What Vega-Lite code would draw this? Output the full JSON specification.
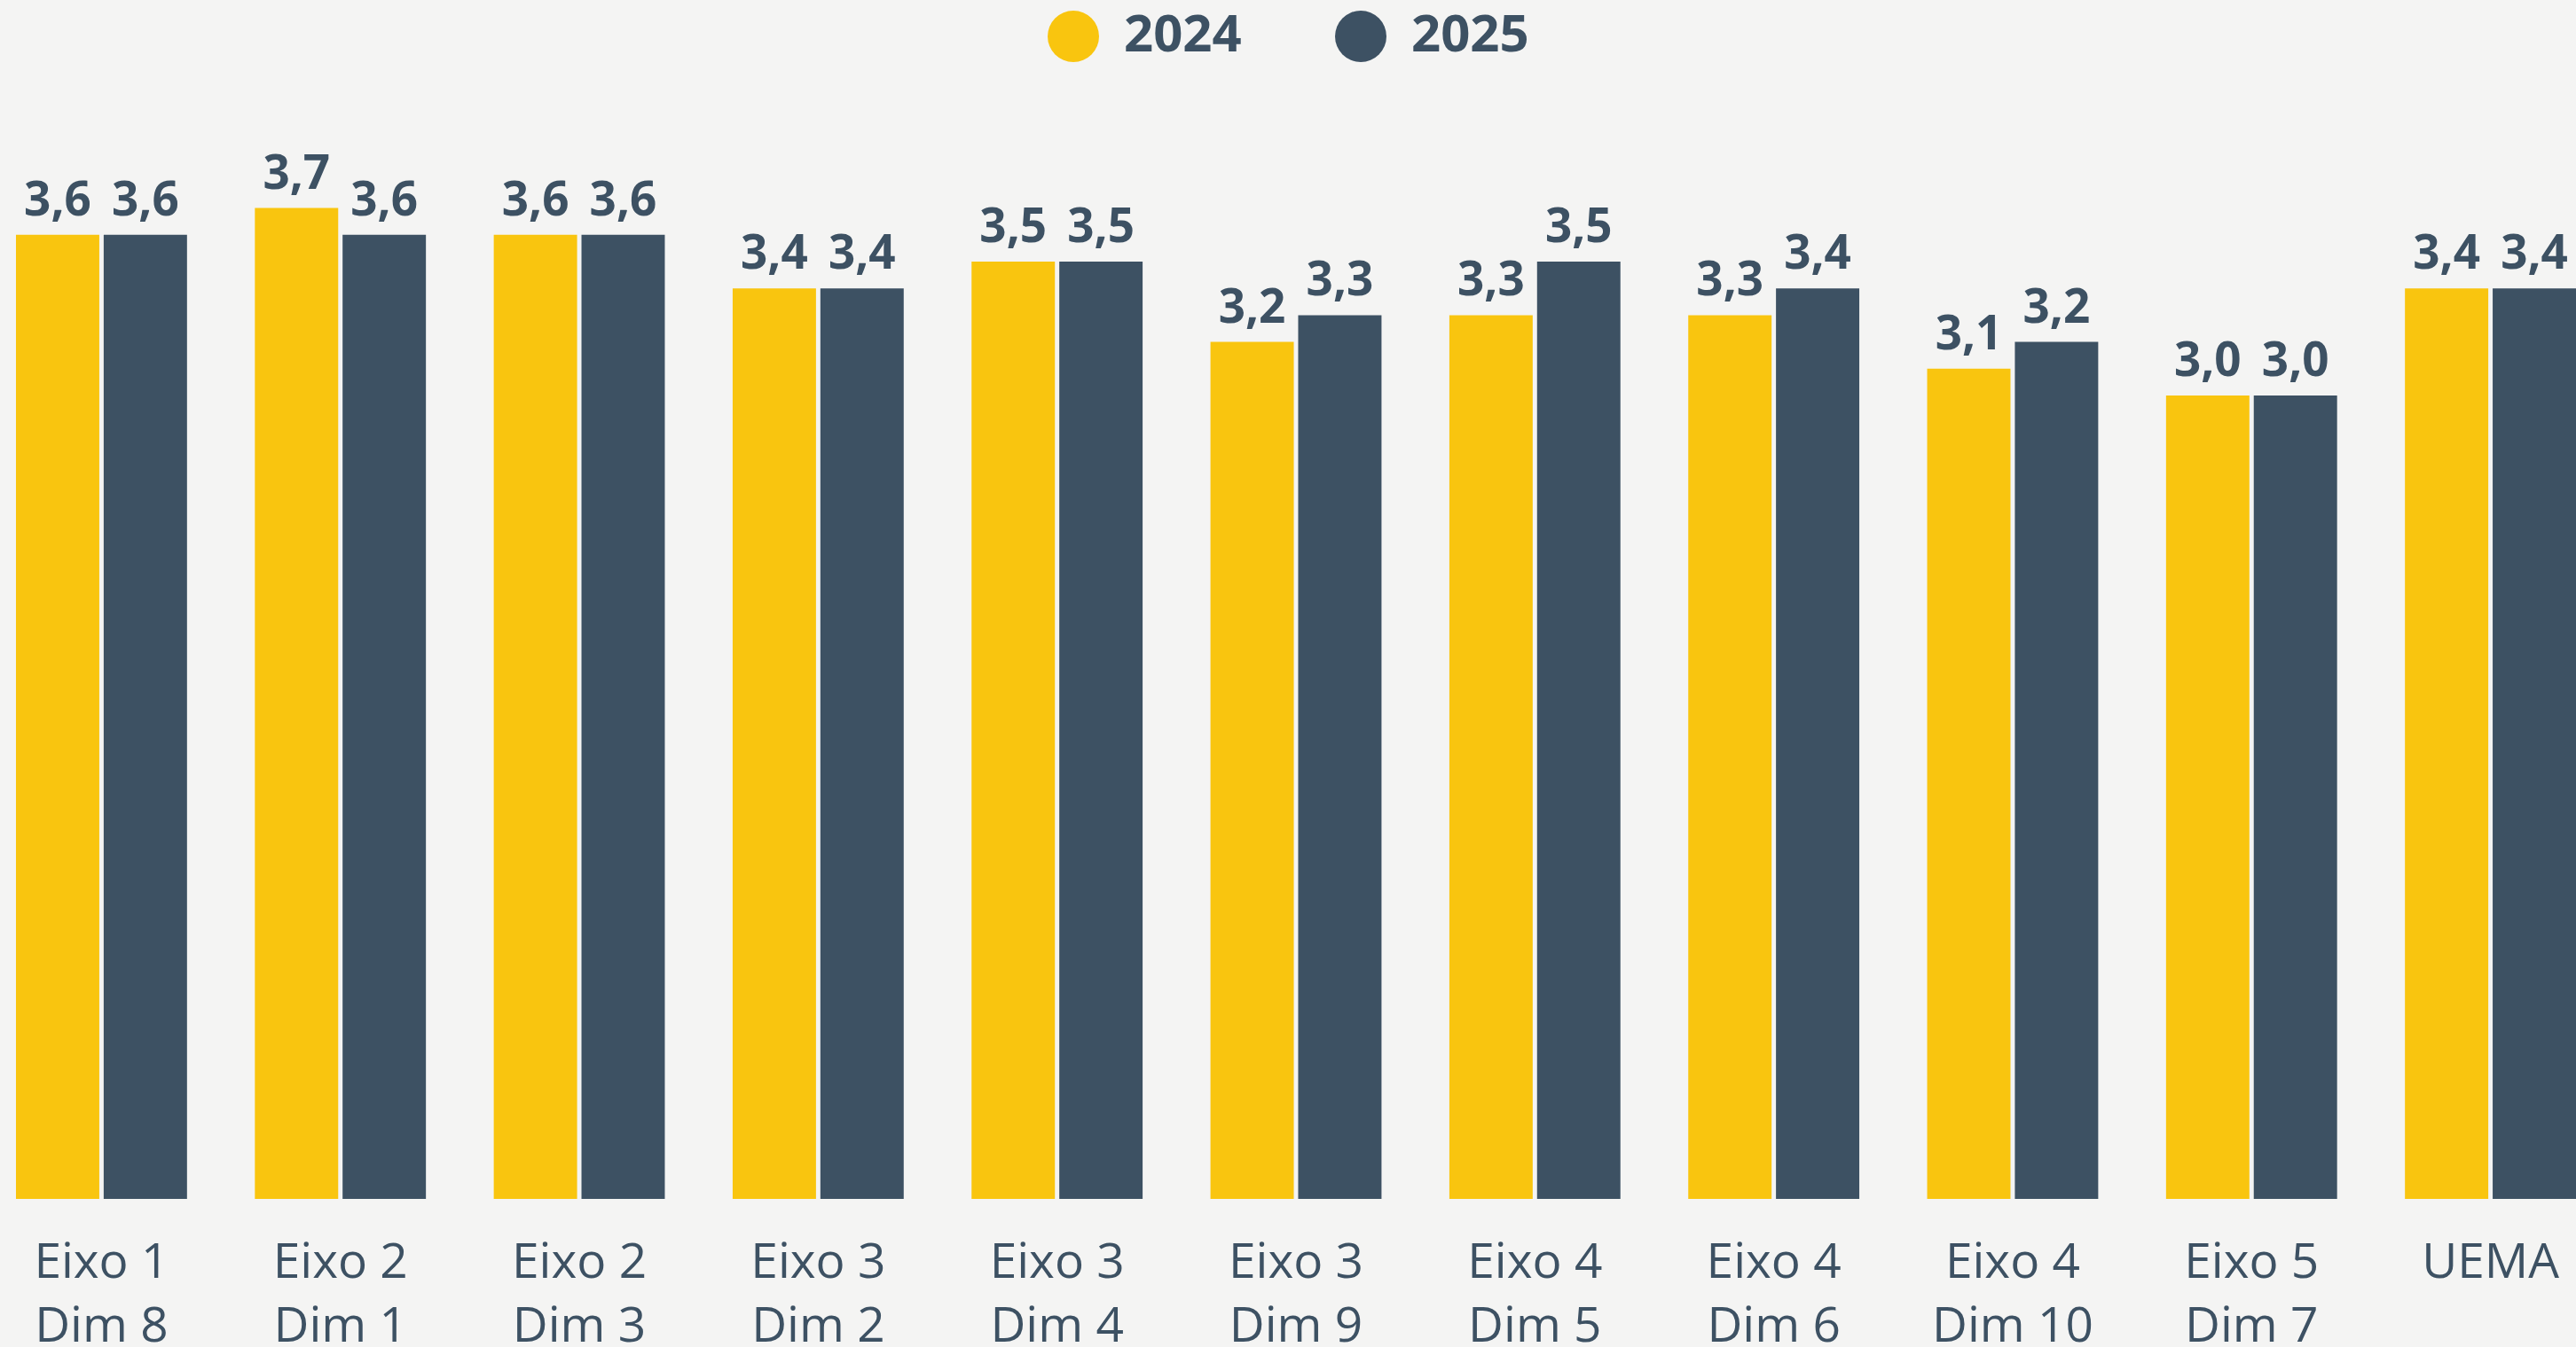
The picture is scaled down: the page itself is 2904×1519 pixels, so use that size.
{
  "$schema": "https://vega.github.io/schema/vega-lite/v6.json",
  "autosize": {"type": "none"},
  "width": 2886,
  "height": 1208,
  "padding": {"left": 18, "top": 144, "right": 0, "bottom": 167},
  "background": "#f4f4f3",
  "config": {
    "view": {"stroke": null},
    "locale": {"number": {"decimal": ",", "thousands": ".", "grouping": [3], "currency": ["R$", ""]}},
    "axis": {"domain": false, "ticks": false, "grid": false}
  },
  "data": {
    "values": [
      {"cat": "Eixo 1|Dim 8", "year": "2024", "value": 3.6},
      {"cat": "Eixo 1|Dim 8", "year": "2025", "value": 3.6},
      {"cat": "Eixo 2|Dim 1", "year": "2024", "value": 3.7},
      {"cat": "Eixo 2|Dim 1", "year": "2025", "value": 3.6},
      {"cat": "Eixo 2|Dim 3", "year": "2024", "value": 3.6},
      {"cat": "Eixo 2|Dim 3", "year": "2025", "value": 3.6},
      {"cat": "Eixo 3|Dim 2", "year": "2024", "value": 3.4},
      {"cat": "Eixo 3|Dim 2", "year": "2025", "value": 3.4},
      {"cat": "Eixo 3|Dim 4", "year": "2024", "value": 3.5},
      {"cat": "Eixo 3|Dim 4", "year": "2025", "value": 3.5},
      {"cat": "Eixo 3|Dim 9", "year": "2024", "value": 3.2},
      {"cat": "Eixo 3|Dim 9", "year": "2025", "value": 3.3},
      {"cat": "Eixo 4|Dim 5", "year": "2024", "value": 3.3},
      {"cat": "Eixo 4|Dim 5", "year": "2025", "value": 3.5},
      {"cat": "Eixo 4|Dim 6", "year": "2024", "value": 3.3},
      {"cat": "Eixo 4|Dim 6", "year": "2025", "value": 3.4},
      {"cat": "Eixo 4|Dim 10", "year": "2024", "value": 3.1},
      {"cat": "Eixo 4|Dim 10", "year": "2025", "value": 3.2},
      {"cat": "Eixo 5|Dim 7", "year": "2024", "value": 3.0},
      {"cat": "Eixo 5|Dim 7", "year": "2025", "value": 3.0},
      {"cat": "UEMA", "year": "2024", "value": 3.4},
      {"cat": "UEMA", "year": "2025", "value": 3.4}
    ]
  },
  "encoding": {
    "x": {
      "field": "cat",
      "type": "nominal",
      "sort": null,
      "scale": {"paddingInner": 0.284, "paddingOuter": 0},
      "axis": {
        "title": null,
        "labelExpr": "split(datum.value, '|')",
        "labelAngle": 0,
        "labelFont": "Open Sans",
        "labelFontSize": 55,
        "labelColor": "#3d5163",
        "labelLineHeight": 72,
        "labelPadding": 45,
        "labelBaseline": "top",
        "labelLimit": 0,
        "labelOverlap": false
      }
    },
    "xOffset": {"field": "year", "type": "nominal", "scale": {"paddingInner": 0.05, "paddingOuter": 0}},
    "y": {"field": "value", "type": "quantitative", "scale": {"domain": [0, 4]}, "axis": null}
  },
  "layer": [
    {
      "mark": {"type": "bar"},
      "encoding": {
        "color": {
          "field": "year",
          "type": "nominal",
          "scale": {"domain": ["2024", "2025"], "range": ["#f9c50f", "#3d5163"]},
          "legend": {
            "title": null,
            "orient": "none",
            "direction": "horizontal",
            "legendX": 1163,
            "legendY": -132,
            "padding": 0,
            "symbolType": "circle",
            "symbolSize": 3364,
            "symbolStrokeWidth": 0,
            "symbolOpacity": 1,
            "labelFont": "Noto Sans",
            "labelFontSize": 58,
            "labelFontWeight": "bold",
            "labelColor": "#3d5163",
            "labelOffset": 28,
            "columnPadding": 105
          }
        }
      }
    },
    {
      "mark": {"type": "text", "baseline": "alphabetic", "dy": -22, "font": "Noto Sans", "fontSize": 53, "fontWeight": "bold", "color": "#3d5163"},
      "encoding": {
        "text": {"field": "value", "type": "quantitative", "format": ".1f"}
      }
    }
  ]
}
